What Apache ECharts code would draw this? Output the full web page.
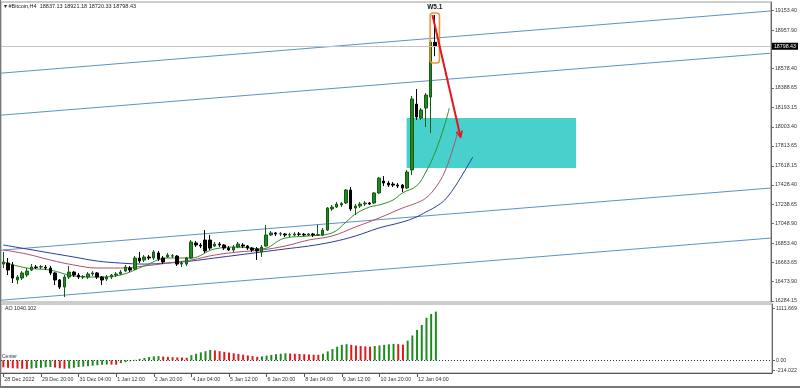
<!DOCTYPE html>
<html><head><meta charset="utf-8">
<script src="https://cdn.jsdelivr.net/npm/echarts@6/dist/echarts.min.js"></script>
<style>html,body{margin:0;padding:0;background:#fff}#c{width:800px;height:388px}</style>
</head><body><div id="c"></div>
<script>
// ---------- data ----------
const titleText = '\u25BE #Bitcoin,H4  18837.13 18921.18 18720.33 18798.43';
const aoTitle = 'AO 1040.102';
const startTime = Date.UTC(2022, 11, 28, 12, 0);
const slotCount = 164;            // visible bar slots incl. empty right margin
// candles: [open, close, low, high]
const candles = [
[16648,16668,16609,16767],[16658,16589,16540,16708],[16639,16510,16461,16668],[16491,16520,16451,16540],
[16510,16560,16491,16579],[16540,16579,16520,16609],[16589,16619,16579,16648],[16619,16614,16599,16639],
[16619,16622,16599,16639],[16617,16609,16589,16639],[16609,16560,16540,16629],[16560,16491,16441,16569],
[16491,16421,16402,16500],[16421,16520,16323,16540],[16520,16569,16500,16629],[16569,16540,16520,16579],
[16540,16520,16500,16560],[16520,16524,16500,16540],[16520,16550,16500,16569],[16550,16560,16530,16579],
[16560,16520,16500,16569],[16520,16491,16441,16530],[16500,16520,16481,16540],[16520,16540,16500,16550],
[16540,16550,16520,16569],[16550,16569,16540,16589],[16579,16619,16569,16639],[16609,16589,16569,16629],
[16599,16708,16589,16727],[16708,16678,16658,16767],[16688,16718,16668,16737],[16718,16708,16688,16737],
[16708,16767,16688,16787],[16757,16698,16678,16777],[16708,16668,16648,16727],[16718,16737,16708,16757],
[16727,16730,16708,16747],[16727,16648,16629,16737],[16648,16658,16619,16678],[16648,16708,16629,16718],
[16708,16866,16698,16885],[16856,16836,16816,16876],[16836,16826,16806,16856],[16885,16777,16757,16984],
[16885,16806,16787,16935],[16826,16846,16816,16866],[16846,16836,16816,16866],[16836,16806,16787,16846],
[16806,16787,16777,16826],[16787,16816,16767,16836],[16816,16846,16806,16866],[16836,16826,16806,16856],
[16826,16806,16787,16836],[16806,16787,16767,16816],[16797,16777,16688,16816],[16767,16816,16718,16836],
[16826,16935,16816,17034],[16935,16955,16925,16974],[16955,16945,16925,16964],[16945,16948,16925,16964],
[16945,16935,16915,16955],[16935,16938,16915,16955],[16935,16945,16925,16964],[16945,16942,16925,16964],
[16942,16935,16925,16955],[16935,16945,16925,16955],[16945,16935,16915,16955],[16935,16938,16925,17034],
[16935,16984,16925,17004],[16984,17201,16974,17211],[17192,17211,17172,17231],[17211,17241,17201,17261],
[17231,17245,17211,17261],[17251,17379,17241,17389],[17379,17192,17172,17409],[17201,17221,17132,17241],
[17221,17241,17201,17261],[17241,17251,17221,17270],[17251,17241,17231,17261],[17251,17350,17241,17359],
[17350,17497,17340,17507],[17468,17448,17419,17517],[17448,17428,17409,17468],[17438,17428,17409,17458],
[17428,17419,17399,17448],[17428,17399,17359,17438],[17399,17557,17389,17577],[17577,18278,17527,18307],
[18228,18100,18070,18376],[18090,18169,18070,18189],[18189,18317,18001,18337],[18297,18840,17942,18860],
[18837.13,18798.43,18700,19107]
];
const aoValues = [
-150,-160,-170,-175,-180,-185,-175,-165,-160,-150,
-145,-155,-170,-180,-175,-160,-145,-135,-125,-115,
-105,-95,-90,-92,-95,-60,-40,-20,10,30,
50,70,85,90,80,72,66,62,58,55,
110,140,170,195,220,210,195,180,165,150,
135,120,105,90,75,85,100,115,130,140,
150,145,140,135,130,125,120,118,140,190,
240,290,330,345,330,315,305,298,292,305,
318,330,342,352,345,335,420,530,650,755,
910,990,1040.102
];
const priceTicks = [19153.40,18957.90,18578.40,18388.65,18193.15,18003.40,17813.65,17618.15,17428.40,17238.65,17048.90,16853.40,16663.65,16473.90,16284.15];
const aoTicks = [1111.669, 0, -214.022];
const aoTickLabels = ['1111.669', '0.00', '-214.022'];
const timeTickIndex = [0,8,16,24,32,40,48,56,64,72,80,88];
const timeTickLabels = ['28 Dec 2022','29 Dec 20:00','31 Dec 04:00','1 Jan 12:00','2 Jan 20:00','4 Jan 04:00','5 Jan 12:00','6 Jan 20:00','8 Jan 04:00','9 Jan 12:00','10 Jan 20:00','12 Jan 04:00'];
const bidPrice = 18798.43;
// channel lines [barIndex, price]
const channelA = [[-0.5,18533],[163.5,19147]];
const channelB = [[-0.5,18118],[163.5,18730]];
const channelC = [[-0.5,16785],[163.5,17399]];
const channelD = [[-0.5,16291],[163.5,16905]];
// alligator lines [barIndex, price]
const jawLine = [[0,16836],[5,16797],[10,16757],[15,16718],[20,16678],[25,16658],[30,16648],[35,16658],[40,16678],[45,16708],[50,16737],[55,16767],[60,16797],[65,16826],[70,16866],[75,16925],[80,17004],[85,17063],[88,17113],[90,17162],[92,17211],[94,17280],[96,17399],[98,17547],[100,17705]];
const teethLine = [[0,16787],[5,16747],[10,16688],[15,16639],[20,16609],[25,16609],[30,16629],[35,16658],[40,16688],[45,16737],[50,16767],[55,16787],[60,16826],[65,16885],[70,16925],[75,17014],[80,17102],[85,17201],[88,17251],[90,17300],[92,17399],[94,17557],[96,17823],[97,17990]];
const lipsLine = [[0,16668],[5,16609],[10,16589],[15,16530],[20,16520],[25,16540],[30,16629],[35,16708],[40,16708],[45,16797],[50,16816],[55,16797],[60,16905],[65,16925],[70,16955],[73,17063],[75,17142],[78,17211],[80,17231],[83,17280],[85,17350],[88,17419],[90,17557],[92,17754],[94,18021],[95,18189]];
// drawn objects [x0, price0, x1, price1]
const zoneBox = [85.9, 18090, 122, 17596];
const waveBox = [90.9, 19127, 92.9, 18633];
const waveLabel = 'W5.1';
const arrowLine = [91.4, 19107, 97.4, 17902];

// ---------- build ----------
const categories = [];
for (let i = 0; i < slotCount; i++) {
  if (i < candles.length) {
    const d = new Date(startTime + i * 4 * 3600e3);
    categories.push(d.toISOString().slice(0, 16));
  } else categories.push('');
}
const aoData = aoValues.map((v, i) => ({
  value: v,
  itemStyle: { color: (i > 0 && v > aoValues[i - 1]) ? '#1f8a1f' : '#e01a1a' }
}));
const FONT = 'Liberation Sans';
const chart = echarts.init(document.getElementById('c'), null, { renderer: 'canvas' });

function rectItem(params, api) {
  const p0 = api.coord([api.value(0), api.value(1)]);
  const p1 = api.coord([api.value(2), api.value(3)]);
  return { type: 'rect', shape: { x: p0[0], y: p0[1], width: p1[0] - p0[0], height: p1[1] - p0[1] }, style: { fill: '#48d1cc' } };
}
function waveItem(params, api) {
  const p0 = api.coord([api.value(0), api.value(1)]);
  const p1 = api.coord([api.value(2), api.value(3)]);
  return { type: 'group', children: [
    { type: 'rect', shape: { x: p0[0], y: p0[1], width: p1[0] - p0[0], height: p1[1] - p0[1], r: 3 }, style: { fill: 'none', stroke: '#f0923a', lineWidth: 1.5 } },
    { type: 'text', style: { text: waveLabel, x: (p0[0] + p1[0]) / 2, y: p0[1] - 2, align: 'center', verticalAlign: 'bottom', font: 'bold 6.5px "' + FONT + '"', fill: '#111' } }
  ] };
}
function arrowItem(params, api) {
  const p0 = api.coord([api.value(0), api.value(1)]);
  const p1 = api.coord([api.value(2), api.value(3)]);
  const dx = p1[0] - p0[0], dy = p1[1] - p0[1], L = Math.hypot(dx, dy);
  const ux = dx / L, uy = dy / L, nx = -uy, ny = ux;
  const w1 = [p1[0] - 6 * ux + 3 * nx, p1[1] - 6 * uy + 3 * ny];
  const w2 = [p1[0] - 6 * ux - 3 * nx, p1[1] - 6 * uy - 3 * ny];
  return { type: 'group', children: [
    { type: 'line', shape: { x1: p0[0], y1: p0[1], x2: p1[0], y2: p1[1] }, style: { stroke: '#e3161e', lineWidth: 2 } },
    { type: 'polyline', shape: { points: [w1, p1, w2] }, style: { stroke: '#e3161e', lineWidth: 1.5, fill: null } }
  ] };
}
const lineSeries = (data, color, z, smooth) => ({
  type: 'line', xAxisIndex: 1, yAxisIndex: 0, data, symbol: 'none', smooth: smooth || false,
  lineStyle: { color, width: 1 }, z, silent: true, animation: false
});

chart.setOption({
  animation: false,
  backgroundColor: '#fff',
  textStyle: { fontFamily: FONT },
  grid: [
    { left: 1, right: 28, top: 2, height: 300, show: true, borderColor: '#9a9a9a', borderWidth: 1 },
    { left: 1, right: 28, top: 304, height: 69, show: true, borderColor: '#9a9a9a', borderWidth: 1 }
  ],
  xAxis: [
    { type: 'category', gridIndex: 0, data: categories, boundaryGap: true, show: false },
    { type: 'value', gridIndex: 0, min: -0.5, max: slotCount - 0.5, show: false },
    { type: 'category', gridIndex: 1, data: categories, boundaryGap: true,
      axisLine: { show: true, onZero: false, lineStyle: { color: '#555', width: 1 } },
      axisTick: { show: true, alignWithLabel: true, interval: (i) => timeTickIndex.includes(i), length: 4, lineStyle: { color: '#555' } },
      axisLabel: { show: true, interval: (i) => timeTickIndex.includes(i),
        formatter: (v, i) => timeTickLabels[timeTickIndex.indexOf(i)] || '',
        align: 'left', fontSize: 5.3, color: '#333', margin: 4, padding: [0, 0, 0, 1], fontFamily: FONT },
      splitLine: { show: false } }
  ],
  yAxis: [
    { type: 'value', gridIndex: 0, position: 'right', min: 16273.5, max: 19235.4,
      splitLine: { show: false },
      axisLine: { show: true, onZero: false, lineStyle: { color: '#666' } },
      axisTick: { show: true, customValues: priceTicks, length: 3, lineStyle: { color: '#666' } },
      axisLabel: { customValues: priceTicks, formatter: (v) => v.toFixed(2), fontSize: 5.3, color: '#333', margin: 4, fontFamily: FONT } },
    { type: 'value', gridIndex: 1, position: 'right', min: -271.5, max: 1203.7,
      splitLine: { show: false },
      axisLine: { show: true, onZero: false, lineStyle: { color: '#666' } },
      axisTick: { show: true, customValues: aoTicks, length: 3, lineStyle: { color: '#666' } },
      axisLabel: { customValues: aoTicks, fontSize: 5.3, color: '#333', margin: 4, fontFamily: FONT,
        formatter: (v) => { let k = 0; aoTicks.forEach((t, j) => { if (Math.abs(t - v) < Math.abs(aoTicks[k] - v)) k = j; }); return aoTickLabels[k]; } } }
  ],
  series: [
    { type: 'custom', xAxisIndex: 1, yAxisIndex: 0, data: [zoneBox], renderItem: rectItem, encode: { x: [0, 2], y: [1, 3] }, z: 1, silent: true },
    lineSeries(channelA, '#5b93c4', 2),
    lineSeries(channelB, '#5b93c4', 2),
    lineSeries(channelC, '#5b93c4', 2),
    lineSeries(channelD, '#5b93c4', 2),
    lineSeries(jawLine, '#2a3c98', 3, 0.4),
    lineSeries(teethLine, '#b0506a', 3, 0.4),
    lineSeries(lipsLine, '#2f8f2f', 3, 0.4),
    { type: 'candlestick', xAxisIndex: 0, yAxisIndex: 0, data: candles, barWidth: 3, z: 4, silent: true,
      itemStyle: { color: '#1f8a1f', color0: '#000', borderColor: '#145a14', borderColor0: '#000', borderWidth: 1 },
      markLine: { silent: true, symbol: 'none', animation: false,
        lineStyle: { color: '#c4c4c4', width: 1, type: 'solid' },
        label: { show: true, position: 'end', formatter: bidPrice.toFixed(2), backgroundColor: '#000', color: '#fff', fontSize: 5.3, padding: [1, 2, 1, 2], distance: 1, fontFamily: FONT },
        data: [{ yAxis: bidPrice }] } },
    { type: 'custom', xAxisIndex: 1, yAxisIndex: 0, data: [waveBox], renderItem: waveItem, encode: { x: [0, 2], y: [1, 3] }, z: 6, silent: true, clip: false },
    { type: 'custom', xAxisIndex: 1, yAxisIndex: 0, data: [arrowLine], renderItem: arrowItem, encode: { x: [0, 2], y: [1, 3] }, z: 7, silent: true },
    { type: 'bar', xAxisIndex: 2, yAxisIndex: 1, data: aoData, barWidth: 2, silent: true,
      markLine: { silent: true, symbol: 'none', animation: false,
        lineStyle: { color: '#333', width: 1, type: [1, 2] },
        label: { show: true, position: 'insideStartTop', formatter: 'Center', fontSize: 5, color: '#333', distance: 1, fontFamily: FONT },
        data: [{ yAxis: 0 }] } }
  ],
  graphic: [
    { type: 'text', x: 4, y: 3, style: { text: titleText, font: '5.5px "' + FONT + '"', fill: '#222' } },
    { type: 'text', x: 5, y: 306.5, style: { text: aoTitle, font: '5.3px "' + FONT + '"', fill: '#222' } },
    { type: 'rect', shape: { x: 0, y: 0, width: 1, height: 388 }, style: { fill: '#777' } },
    { type: 'rect', shape: { x: 0, y: 386, width: 800, height: 2 }, style: { fill: '#777' } }
  ]
});
</script></body></html>
